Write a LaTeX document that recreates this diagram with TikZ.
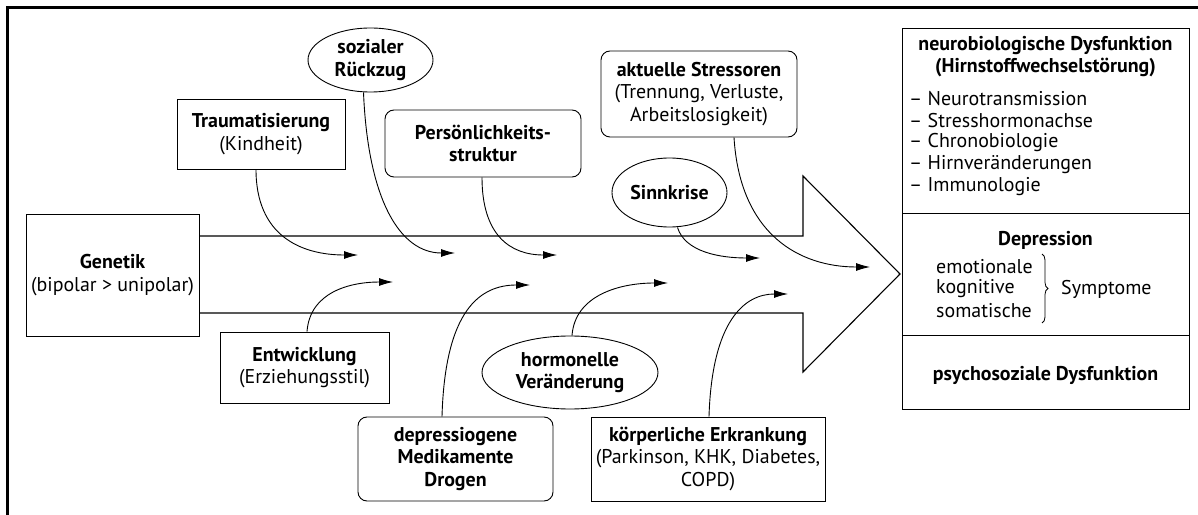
\documentclass[tikz,border=0pt]{standalone}
\usepackage{fontspec}
\setmainfont{PT Sans}
\usetikzlibrary{shapes.geometric,arrows.meta,decorations.pathreplacing}
\begin{document}
\begin{tikzpicture}[x=1bp,y=-1bp,
 every node/.style={font=\fontsize{20}{22.5}\selectfont, align=center, inner sep=0pt},
 sq/.style={draw, line width=0.9bp},
 rd/.style={draw, line width=0.9bp, rounded corners=9bp},
 ell/.style={draw, line width=0.9bp, ellipse},
 conn/.style={line width=0.9bp, -{Latex[length=14bp,width=8bp]}},
 body/.style={line width=1.1bp},
 lst/.style={anchor=west},
]
\useasboundingbox (0,0) rectangle (1198,515);
% frame (top and left)
\draw[line width=3bp] (7,515) -- (7,8) -- (1198,8);

% Genetik
\node[sq, minimum width=173bp, minimum height=122bp] (gen) at (112.5,275) {\textbf{Genetik}\\(bipolar > unipolar)};

% right column
\node[sq, minimum width=287bp, minimum height=185bp] (nb) at (1045.5,120.5) {};
\node[sq, minimum width=287bp, minimum height=122bp] (dep) at (1045.5,274) {};
\node[sq, minimum width=287bp, minimum height=74bp] (psy) at (1045.5,372) {};
\node (nbt) at (1045.5,56.5) {\textbf{neurobiologische Dysfunktion}\\\textbf{(Hirnstoffwechselstörung)}};
\node[lst] (l1) at (909,99) {– Neurotransmission};
\node[lst] (l2) at (909,121) {– Stresshormonachse};
\node[lst] (l3) at (909,143) {– Chronobiologie};
\node[lst] (l4) at (909,165) {– Hirnveränderungen};
\node[lst] (l5) at (909,187) {– Immunologie};
\node (dept) at (1045.5,240) {\textbf{Depression}};
\node[lst] (s1) at (936,267) {emotionale};
\node[lst] (s2) at (936,289) {kognitive};
\node[lst] (s3) at (936,311) {somatische};
\draw[line width=0.8bp, decorate, decoration={brace, amplitude=6bp}] (1042,254) -- (1042,323);
\node[lst] (sym) at (1061,289) {Symptome};
\node (psyt) at (1045.5,375) {\textbf{psychosoziale Dysfunktion}};

% big arrow body
\coordinate (a1) at (gen.east |- 0,236);
\coordinate (a2) at (803,236);
\coordinate (a3) at (803,176);
\coordinate (tip) at (900,274);
\coordinate (a5) at (803,372);
\coordinate (a6) at (803,313);
\coordinate (a7) at (gen.east |- 0,313);
\draw[body, line join=miter] (a1) -- (a2) -- (a3) -- (tip) -- (a5) -- (a6) -- (a7);

% upper factors
\node[sq, minimum width=168bp, minimum height=70bp] (trau) at (261,134) {\textbf{Traumatisierung}\\(Kindheit)};
\node[ell, minimum width=125bp, minimum height=64bp] (soz) at (370.5,60) {\textbf{sozialer}\\\textbf{Rückzug}};
\node[rd, minimum width=196bp, minimum height=67bp] (pers) at (483,143.5) {\textbf{Persönlichkeits-}\\\textbf{struktur}};
\node[rd, minimum width=196bp, minimum height=86bp] (akt) at (699,94) {\textbf{aktuelle Stressoren}\\(Trennung, Verluste,\\Arbeitslosigkeit)};
\node[ell, minimum width=115bp, minimum height=69bp] (sinn) at (669.5,192.5) {\textbf{Sinnkrise}};

% lower factors
\node[sq, minimum width=169bp, minimum height=71bp] (entw) at (304.5,367.5) {\textbf{Entwicklung}\\(Erziehungsstil)};
\node[rd, minimum width=195bp, minimum height=84bp] (depr) at (455.5,459) {\textbf{depressiogene}\\\textbf{Medikamente}\\\textbf{Drogen}};
\node[ell, minimum width=176bp, minimum height=73bp] (horm) at (570,372.5) {\textbf{hormonelle}\\\textbf{Veränderung}};
\node[sq, minimum width=234bp, minimum height=84bp] (koerp) at (708,459) {\textbf{körperliche Erkrankung}\\(Parkinson, KHK, Diabetes,\\COPD)};

% arrow ends
\coordinate (e1) at (358,255);
\coordinate (e2) at (455,253);
\coordinate (e3) at (557,255);
\coordinate (e4) at (870,267);
\coordinate (e5) at (760,258);
\coordinate (e6) at (393,282);
\coordinate (e7) at (530,285);
\coordinate (e8) at (668,283);
\coordinate (e9) at (788,294);

\draw[conn] ([xshift=-5bp]trau.south) .. controls (256,235) and (300,255) .. (e1);
\draw[conn] ([xshift=-7bp]soz.south) .. controls (368,200) and (400,253) .. (e2);
\draw[conn] ([xshift=-1bp]pers.south) .. controls (482,235) and (510,255) .. (e3);
\draw[conn] ([xshift=35bp]akt.south) .. controls (740,235) and (800,267) .. (e4);
\draw[conn] ([xshift=8bp]sinn.south) .. controls (685,252) and (720,258) .. (e5);
\draw[conn] ([xshift=2.5bp]entw.north) .. controls (310,292) and (350,282) .. (e6);
\draw[conn] ([xshift=-13.5bp]depr.north) .. controls (445,310) and (480,285) .. (e7);
\draw[conn] ([xshift=2bp]horm.north) .. controls (575,295) and (620,283) .. (e8);
\draw[conn] ([xshift=1bp]koerp.north) .. controls (712,320) and (745,294) .. (e9);
\end{tikzpicture}
\end{document}
